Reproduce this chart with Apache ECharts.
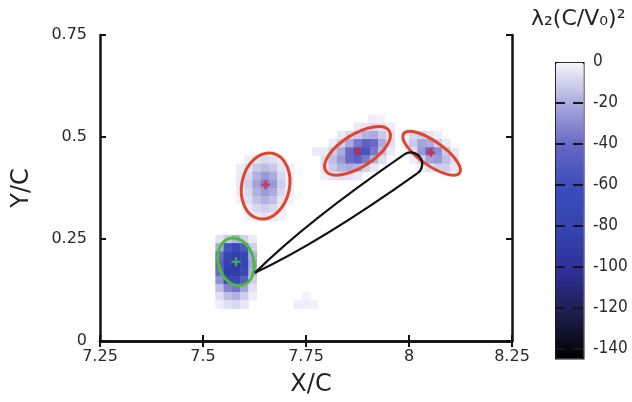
<!DOCTYPE html>
<html>
<head>
<meta charset="utf-8">
<script src="https://cdn.jsdelivr.net/npm/echarts@6/dist/echarts.min.js"></script>
<style>
  html, body { margin: 0; padding: 0; background: #fff; }
  #chart { width: 632px; height: 402px; }
</style>
</head>
<body>
<div id="chart"></div>
<script>
// lattice step of the lambda_2 map (X/C and Y/C units)
var cellSize = 0.02;

// lambda_2 values per blob, rows top -> bottom, columns left -> right
// origin = centre of the top-left cell
var blobGreenOrigin = [7.54, 0.25];
var blobGreen = [
  [-5, -12, -18, -10, -3],
  [-20, -55, -65, -50, -10],
  [-40, -80, -88, -72, -18],
  [-45, -85, -92, -78, -22],
  [-40, -88, -90, -70, -18],
  [-28, -65, -70, -48, -10],
  [-14, -32, -36, -22, -5],
  [-6, -15, -18, -10, -2],
  [-2, -6, -8, -4, 0]
];

var blobLeftOrigin = [7.59, 0.445];
var blobLeft = [
  [0, -2, -5, -8, -6, -3, 0],
  [-2, -5, -12, -15, -12, -5, -1],
  [-3, -8, -18, -25, -20, -8, -2],
  [-3, -10, -22, -32, -25, -10, -2],
  [-2, -8, -18, -25, -20, -8, -2],
  [-1, -6, -14, -18, -14, -5, -1],
  [0, -3, -8, -10, -8, -3, 0],
  [0, -1, -3, -5, -3, -1, 0]
];

var blobMidOrigin = [7.795, 0.525];
var blobMid = [
  [0, 0, 0, 0, -3, -5, -8, -5, -2],
  [0, 0, -3, -8, -12, -18, -20, -12, -5],
  [0, -3, -10, -20, -35, -45, -40, -20, -6],
  [-3, -10, -20, -40, -55, -55, -35, -15, -3],
  [-5, -15, -25, -40, -45, -35, -18, -6, 0],
  [-5, -12, -18, -20, -18, -10, -4, 0, 0],
  [-2, -5, -6, -5, -3, 0, 0, 0, 0]
];

var blobRightOrigin = [7.99, 0.505];
var blobRight = [
  [-2, -8, -10, -5, -2, 0, 0],
  [-3, -12, -22, -20, -10, -3, 0],
  [0, -6, -25, -40, -28, -12, -3],
  [0, -2, -10, -22, -25, -15, -6],
  [0, 0, -2, -6, -10, -10, -4]
];

// isolated faint cells [x, y, lambda_2]
var faintCells = [
  [7.73, 0.09, -2], [7.75, 0.09, -2], [7.77, 0.09, -1], [7.75, 0.11, -1],
  [7.91, 0.545, -2], [7.93, 0.545, -1], [7.775, 0.465, -3]
];

// vortex ellipses [cx, cy, rx, ry, rotation deg]
var redEllipses = [
  [7.652, 0.380, 0.058, 0.081, -12],
  [7.875, 0.466, 0.091, 0.040, 32],
  [8.055, 0.460, 0.083, 0.029, -35]
];
var greenEllipses = [
  [7.580, 0.194, 0.043, 0.059, 15]
];

// vortex centres
var redCentres = [[7.652, 0.383], [7.875, 0.465], [8.053, 0.462]];
var greenCentres = [[7.580, 0.194]];

// trajectory loop [tipX, tipY, endX, endY, halfWidth]
var loopShape = [[7.626, 0.167, 8.027, 0.450, 0.028]];

var colorbarTicks = [0, -20, -40, -60, -80, -100, -120, -140];

function buildCells() {
  var out = [];
  var blobs = [
    [blobGreenOrigin, blobGreen],
    [blobLeftOrigin, blobLeft],
    [blobMidOrigin, blobMid],
    [blobRightOrigin, blobRight]
  ];
  blobs.forEach(function (b) {
    var o = b[0], m = b[1];
    for (var r = 0; r < m.length; r++) {
      for (var c = 0; c < m[r].length; c++) {
        if (m[r][c] !== 0) {
          out.push([+(o[0] + c * cellSize).toFixed(3), +(o[1] - r * cellSize).toFixed(3), m[r][c]]);
        }
      }
    }
  });
  return out.concat(faintCells);
}

function renderCell(params, api) {
  var p = api.coord([api.value(0) - cellSize / 2, api.value(1) + cellSize / 2]);
  var s = api.size([cellSize, cellSize]);
  return {
    type: 'rect',
    shape: { x: p[0], y: p[1], width: s[0] + 0.5, height: s[1] + 0.5 },
    style: { fill: api.visual('color') }
  };
}

function makeEllipseRenderer(color) {
  return function (params, api) {
    var c = api.coord([api.value(0), api.value(1)]);
    var rx = api.size([api.value(2), 0])[0];
    var ry = api.size([api.value(3), 0])[0];
    return {
      type: 'ellipse',
      x: c[0],
      y: c[1],
      rotation: api.value(4) * Math.PI / 180,
      shape: { cx: 0, cy: 0, rx: rx, ry: ry },
      style: { fill: null, stroke: color, lineWidth: 3 }
    };
  };
}

// narrow loop: pointed at the tip, round cap at the far end
function renderLoop(params, api) {
  var p0 = api.coord([api.value(0), api.value(1)]);
  var p1 = api.coord([api.value(2), api.value(3)]);
  var w = api.size([api.value(4), 0])[0];
  var dx = p1[0] - p0[0], dy = p1[1] - p0[1];
  var L = Math.sqrt(dx * dx + dy * dy);
  var ux = dx / L, uy = dy / L, nx = uy, ny = -ux;
  var k = 0.5523, c = L - w;
  function pt(a, b) { return [p0[0] + ux * a + nx * b, p0[1] + uy * a + ny * b]; }
  var stroke = { fill: null, stroke: '#111', lineWidth: 2.2 };
  function bez(a, c1, c2, b) {
    return {
      type: 'bezierCurve',
      shape: { x1: a[0], y1: a[1], cpx1: c1[0], cpy1: c1[1], cpx2: c2[0], cpy2: c2[1], x2: b[0], y2: b[1] },
      style: stroke
    };
  }
  return {
    type: 'group',
    children: [
      bez(pt(0, 0), pt(0.25 * c, 0.72 * w), pt(0.6 * c, 1.05 * w), pt(c, w)),
      bez(pt(c, w), pt(c + k * w, w), pt(L, k * w), pt(L, 0)),
      bez(pt(L, 0), pt(L, -k * w), pt(c + k * w, -w), pt(c, -w)),
      bez(pt(c, -w), pt(0.6 * c, -1.05 * w), pt(0.25 * c, -0.72 * w), pt(0, 0))
    ]
  };
}

var plus = 'path://M3,0H5V3H8V5H5V8H3V5H0V3H3Z';
var txt = '#2a2a2a';
var font = '"DejaVu Sans", sans-serif';

var chart = echarts.init(document.getElementById('chart'));
chart.setOption({
  animation: false,
  backgroundColor: '#fff',
  textStyle: { fontFamily: font },
  title: {
    text: 'λ₂(C/V₀)²',
    left: 531,
    top: 8,
    padding: 0,
    textStyle: { fontSize: 22, fontWeight: 'normal', color: '#222', fontFamily: font }
  },
  grid: [
    { left: 100, top: 35, width: 412, height: 306, outerBoundsMode: 'none' },
    { left: 555, top: 62, width: 28, height: 287, outerBoundsMode: 'none' }
  ],
  xAxis: [
    {
      type: 'value', gridIndex: 0, min: 7.25, max: 8.25, interval: 0.25,
      name: 'X/C', nameLocation: 'middle', nameGap: 32,
      nameTextStyle: { fontSize: 24, color: '#222', padding: [0, 0, 0, 10] },
      axisLine: { lineStyle: { color: '#111', width: 2.5 } },
      axisTick: { inside: true, length: 6, lineStyle: { width: 2, color: '#111' } },
      axisLabel: { fontSize: 16, color: txt, margin: 8 },
      splitLine: { show: false }
    },
    {
      type: 'value', gridIndex: 0, position: 'top', min: 7.25, max: 8.25, interval: 0.25,
      axisLine: { lineStyle: { color: '#111', width: 2.5 } },
      axisTick: { inside: true, length: 6, lineStyle: { width: 2, color: '#111' } },
      axisLabel: { show: false },
      splitLine: { show: false }
    },
    {
      type: 'value', gridIndex: 1, min: 0, max: 1, show: false
    }
  ],
  yAxis: [
    {
      type: 'value', gridIndex: 0, min: 0, max: 0.75, interval: 0.25,
      name: 'Y/C', nameLocation: 'middle', nameGap: 66, nameRotate: 90,
      nameTextStyle: { fontSize: 24, color: '#222' },
      axisLine: { lineStyle: { color: '#111', width: 2.5 } },
      axisTick: { inside: true, length: 6, lineStyle: { width: 2, color: '#111' } },
      axisLabel: { fontSize: 16, color: txt, margin: 13 },
      splitLine: { show: false }
    },
    {
      type: 'value', gridIndex: 0, position: 'right', min: 0, max: 0.75, interval: 0.25,
      axisLine: { lineStyle: { color: '#111', width: 2.5 } },
      axisTick: { inside: true, length: 6, lineStyle: { width: 2, color: '#111' } },
      axisLabel: { show: false },
      splitLine: { show: false }
    },
    {
      type: 'value', gridIndex: 1, position: 'right', min: -140, max: 0, interval: 20,
      z: 10,
      axisLine: { show: false },
      axisTick: { show: false },
      axisLabel: {
        fontSize: 17, color: txt, margin: 10,
        fontFamily: '"DejaVu Sans Condensed", "DejaVu Sans", sans-serif',
        customValues: colorbarTicks
      },
      splitLine: { show: true, showMaxLine: false, lineStyle: { type: [10, 8], color: '#15152a', width: 2 } }
    }
  ],
  visualMap: {
    type: 'continuous',
    min: -145,
    max: 0,
    dimension: 2,
    seriesIndex: 0,
    calculable: false,
    orient: 'vertical',
    left: 555,
    top: 62,
    itemWidth: 28,
    itemHeight: 296,
    padding: 0,
    borderColor: '#111',
    borderWidth: 1.5,
    text: null,
    inRange: {
      color: ['#000000', '#1c1c48', '#2e2e94', '#3444b0', '#3a4cba', '#6464c4', '#a8a8dc', '#f6f6fc']
    }
  },
  series: [
    {
      type: 'custom',
      xAxisIndex: 0, yAxisIndex: 0,
      renderItem: renderCell,
      encode: { x: 0, y: 1 },
      data: buildCells(),
      z: 1
    },
    {
      type: 'custom',
      xAxisIndex: 0, yAxisIndex: 0,
      renderItem: makeEllipseRenderer('#e2452c'),
      encode: { x: 0, y: 1 },
      data: redEllipses,
      z: 3
    },
    {
      type: 'custom',
      xAxisIndex: 0, yAxisIndex: 0,
      renderItem: makeEllipseRenderer('#4cbb3c'),
      encode: { x: 0, y: 1 },
      data: greenEllipses,
      z: 3
    },
    {
      type: 'custom',
      xAxisIndex: 0, yAxisIndex: 0,
      renderItem: renderLoop,
      encode: { x: [0, 2], y: [1, 3] },
      data: loopShape,
      z: 4
    },
    {
      type: 'scatter',
      xAxisIndex: 0, yAxisIndex: 0,
      symbol: plus, symbolSize: 9,
      itemStyle: { color: '#e8202e' },
      data: redCentres,
      z: 5
    },
    {
      type: 'scatter',
      xAxisIndex: 0, yAxisIndex: 0,
      symbol: plus, symbolSize: 9,
      itemStyle: { color: '#46c83a' },
      data: greenCentres,
      z: 5
    },
    {
      type: 'line',
      xAxisIndex: 2, yAxisIndex: 2,
      data: [],
      silent: true
    }
  ]
});
</script>
</body>
</html>
